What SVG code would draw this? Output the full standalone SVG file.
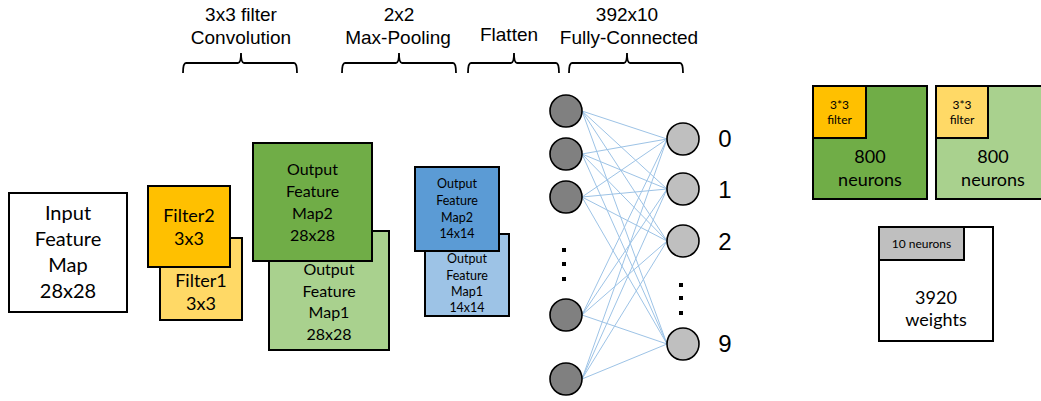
<svg xmlns="http://www.w3.org/2000/svg" width="1041" height="401" viewBox="0 0 1041 401">
<style>
.box{stroke:#000;stroke-width:2}
.t{font-family:Lato,"Liberation Sans",sans-serif;fill:#000;text-anchor:middle}
.h{font-family:"Liberation Sans",Arial,sans-serif;font-size:19px;fill:#000;text-anchor:middle}
.br{fill:none;stroke:#000;stroke-width:1.8}
.con line{stroke:#9DC3E6;stroke-width:1}
.nl{fill:#808080;stroke:#000;stroke-width:1.6}
.nr{fill:#BFBFBF;stroke:#000;stroke-width:1.6}
.dg{font-family:"Liberation Sans",Arial,sans-serif;font-size:24px;fill:#000;text-anchor:middle}
</style>
<rect width="1041" height="401" fill="#fff"/>

<g id="labels">
<text class="h" x="241" y="21">3x3 filter</text>
<text class="h" x="241" y="44">Convolution</text>
<text class="h" x="399" y="21">2x2</text>
<text class="h" x="398" y="44">Max-Pooling</text>
<text class="h" x="509" y="41">Flatten</text>
<text class="h" x="627" y="21">392x10</text>
<text class="h" x="629" y="44">Fully-Connected</text>
</g>

<g id="braces">
<path class="br" d="M183,73 Q183,63 186,63 L238,63 Q241,63 241,53 Q241,63 244,63 L294,63 Q297,63 297,73"/>
<path class="br" d="M342,73 Q342,63 345,63 L396,63 Q399,63 399,53 Q399,63 402,63 L453,63 Q456,63 456,73"/>
<path class="br" d="M468,73 Q468,63 471,63 L511,63 Q514,63 514,53 Q514,63 517,63 L556,63 Q559,63 559,73"/>
<path class="br" d="M569,73 Q569,63 572,63 L624,63 Q627,63 627,53 Q627,63 630,63 L680,63 Q683,63 683,73"/>
</g>

<g id="input">
<rect class="box" x="9" y="193" width="118" height="119" fill="#fff"/>
<text class="t" font-size="20" x="68" y="220">Input</text>
<text class="t" font-size="20" x="68" y="246">Feature</text>
<text class="t" font-size="20" x="68" y="272">Map</text>
<text class="t" font-size="20" x="68" y="298">28x28</text>
</g>

<g id="filter1">
<rect class="box" x="160" y="238" width="82" height="82" fill="#FFD966"/>
<text class="t" font-size="18" x="201" y="287">Filter1</text>
<text class="t" font-size="18" x="201" y="310">3x3</text>
</g>
<g id="filter2">
<rect class="box" x="148" y="186" width="82" height="81" fill="#FFC000"/>
<text class="t" font-size="18" x="189" y="222">Filter2</text>
<text class="t" font-size="18" x="189" y="245">3x3</text>
</g>

<g id="ofm1">
<rect class="box" x="269" y="231" width="120" height="119" fill="#A9D18E"/>
<text class="t" font-size="16" x="329" y="275">Output</text>
<text class="t" font-size="16" x="329" y="297">Feature</text>
<text class="t" font-size="16" x="329" y="318">Map1</text>
<text class="t" font-size="16" x="329" y="340">28x28</text>
</g>
<g id="ofm2">
<rect class="box" x="253" y="143" width="119" height="118" fill="#70AD47"/>
<text class="t" font-size="16" x="312.5" y="175">Output</text>
<text class="t" font-size="16" x="312.5" y="197">Feature</text>
<text class="t" font-size="16" x="312.5" y="219">Map2</text>
<text class="t" font-size="16" x="312.5" y="241">28x28</text>
</g>

<g id="pool1">
<rect class="box" x="425" y="234" width="84" height="82" fill="#9DC3E6"/>
<text class="t" font-size="12.5" x="467" y="263">Output</text>
<text class="t" font-size="12.5" x="467" y="280">Feature</text>
<text class="t" font-size="12.5" x="467" y="296">Map1</text>
<text class="t" font-size="12.5" x="467" y="312">14x14</text>
</g>
<g id="pool2">
<rect class="box" x="415" y="167" width="84" height="84" fill="#5B9BD5"/>
<text class="t" font-size="12.5" x="457" y="188">Output</text>
<text class="t" font-size="12.5" x="457" y="205">Feature</text>
<text class="t" font-size="12.5" x="457" y="222">Map2</text>
<text class="t" font-size="12.5" x="457" y="238">14x14</text>
</g>

<g id="connectors" class="con">
<line x1="582" y1="111" x2="667" y2="139"/><line x1="582" y1="111" x2="667" y2="189"/><line x1="582" y1="111" x2="667" y2="241"/><line x1="582" y1="111" x2="667" y2="344"/>
<line x1="582" y1="154" x2="667" y2="139"/><line x1="582" y1="154" x2="667" y2="189"/><line x1="582" y1="154" x2="667" y2="241"/><line x1="582" y1="154" x2="667" y2="344"/>
<line x1="582" y1="197" x2="667" y2="139"/><line x1="582" y1="197" x2="667" y2="189"/><line x1="582" y1="197" x2="667" y2="241"/><line x1="582" y1="197" x2="667" y2="344"/>
<line x1="582" y1="315" x2="667" y2="139"/><line x1="582" y1="315" x2="667" y2="189"/><line x1="582" y1="315" x2="667" y2="241"/><line x1="582" y1="315" x2="667" y2="344"/>
<line x1="582" y1="379" x2="667" y2="139"/><line x1="582" y1="379" x2="667" y2="189"/><line x1="582" y1="379" x2="667" y2="241"/><line x1="582" y1="379" x2="667" y2="344"/>
</g>

<g id="input-neurons">
<circle class="nl" cx="566" cy="111" r="16"/>
<circle class="nl" cx="566" cy="154" r="16"/>
<circle class="nl" cx="566" cy="197" r="16"/>
<circle class="nl" cx="566" cy="315" r="16"/>
<circle class="nl" cx="566" cy="379" r="16"/>
<rect x="562" y="248" width="4" height="4"/>
<rect x="562" y="262" width="4" height="4"/>
<rect x="562" y="277" width="4" height="4"/>
</g>

<g id="output-neurons">
<circle class="nr" cx="683" cy="139" r="16"/>
<circle class="nr" cx="683" cy="189" r="16"/>
<circle class="nr" cx="683" cy="241" r="16"/>
<circle class="nr" cx="683" cy="344" r="16"/>
<rect x="679" y="283" width="4" height="4"/>
<rect x="679" y="296" width="4" height="4"/>
<rect x="679" y="311" width="4" height="4"/>
<text class="dg" x="725" y="147">0</text>
<text class="dg" x="725" y="198">1</text>
<text class="dg" x="725" y="250">2</text>
<text class="dg" x="725" y="352">9</text>
</g>

<g id="conv2-params">
<rect class="box" x="813" y="86" width="114" height="113" fill="#70AD47"/>
<rect class="box" x="813" y="86" width="53" height="52" fill="#FFC000"/>
<text class="t" font-size="12" x="839.5" y="109">3*3</text>
<text class="t" font-size="12" x="839.5" y="124">filter</text>
<text class="t" font-size="18" x="870" y="163">800</text>
<text class="t" font-size="18" x="870" y="186">neurons</text>
</g>

<g id="conv1-params">
<rect class="box" x="936" y="86" width="114" height="113" fill="#A9D18E"/>
<rect class="box" x="936" y="86" width="52" height="52" fill="#FFD966"/>
<text class="t" font-size="12" x="962" y="109">3*3</text>
<text class="t" font-size="12" x="962" y="124">filter</text>
<text class="t" font-size="18" x="993" y="163">800</text>
<text class="t" font-size="18" x="993" y="186">neurons</text>
</g>

<g id="fc-params">
<rect class="box" x="879" y="227" width="114" height="114" fill="#fff"/>
<rect class="box" x="879" y="227" width="85" height="33" fill="#BFBFBF"/>
<text class="t" font-size="12" x="921.5" y="248">10 neurons</text>
<text class="t" font-size="18" x="936" y="304">3920</text>
<text class="t" font-size="18" x="936" y="326">weights</text>
</g>
</svg>
